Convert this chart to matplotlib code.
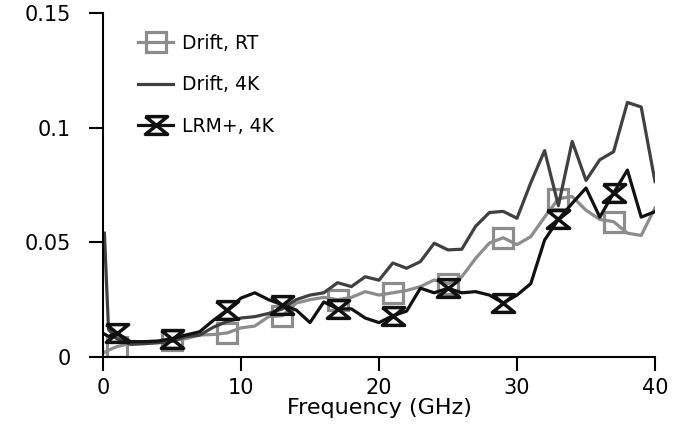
import matplotlib
matplotlib.use("Agg")
import matplotlib.pyplot as plt
import numpy as np

# frequency points (GHz)
freq = [0.1, 0.4] + list(range(1, 41))

drift_rt = [0.002, 0.003, 0.0045, 0.006, 0.0062, 0.0065, 0.0074, 0.008, 0.0096, 0.0098,
            0.0105, 0.0127, 0.0135, 0.0176, 0.018, 0.0235, 0.025, 0.026, 0.025, 0.026,
            0.0285, 0.027, 0.028, 0.029, 0.0307, 0.0336, 0.032, 0.035, 0.043, 0.0497,
            0.052, 0.049, 0.0525, 0.061, 0.069, 0.070, 0.064, 0.060, 0.059, 0.054,
            0.053, 0.065]

drift_4k = [0.054, 0.012, 0.008, 0.0055, 0.0058, 0.0062, 0.0068, 0.0089, 0.0095, 0.013,
            0.0155, 0.017, 0.0176, 0.019, 0.021, 0.025, 0.027, 0.028, 0.0324, 0.0307,
            0.035, 0.0335, 0.041, 0.0387, 0.0416, 0.0496, 0.0467, 0.047, 0.057, 0.063,
            0.0635, 0.0605, 0.076, 0.090, 0.066, 0.094, 0.077, 0.086, 0.0895, 0.111,
            0.109, 0.0765]

lrm_4k = [0.010, 0.009, 0.0105, 0.0067, 0.0067, 0.007, 0.008, 0.0096, 0.011, 0.016,
          0.0205, 0.0257, 0.028, 0.025, 0.0227, 0.0205, 0.015, 0.024, 0.021, 0.021,
          0.017, 0.015, 0.018, 0.020, 0.030, 0.028, 0.030, 0.028, 0.0285, 0.027,
          0.0235, 0.027, 0.032, 0.051, 0.060, 0.067, 0.0737, 0.061, 0.0715, 0.0815,
          0.061, 0.0634]

yticks = [0, 0.05, 0.1, 0.15]
ytick_labels = ["0", "0.05", "0.1", "0.15"]
xticks = [0, 10, 20, 30, 40]

# hourglass marker
hourglass = [(-1, 0.8), (1, 0.8), (-1, -0.8), (1, -0.8), (-1, 0.8)]

fig = plt.figure(figsize=(6.84, 4.33), dpi=100)
ax = fig.add_axes([0.1506, 0.1755, 0.807, 0.7945])

every = slice(2, None, 4)
ax.plot(freq, drift_rt, color="#8c8c8c", lw=2.3, marker="s", ms=14,
        mfc="none", mew=2.3, markevery=every, label="Drift, RT")
ax.plot(freq, drift_4k, color="#404040", lw=2.3, label="Drift, 4K")
ax.plot(freq, lrm_4k, color="#111111", lw=2.3, marker=hourglass, ms=16,
        mfc="none", mew=2.5, markevery=every, label="LRM+, 4K")

ax.set_xlim(0, 40)
ax.set_ylim(0, 0.15)
ax.set_xticks(xticks)
ax.set_yticks(yticks)
ax.set_yticklabels(ytick_labels)
ax.set_xlabel("Frequency (GHz)", fontsize=16, labelpad=0)

for s in ["top", "right"]:
    ax.spines[s].set_visible(False)
for s in ["left", "bottom"]:
    ax.spines[s].set_linewidth(1.5)
ax.tick_params(direction="out", length=10, width=1.5, labelsize=15)
ax.tick_params(axis="x", pad=5)
ax.tick_params(axis="y", pad=13)

ax.legend(loc="upper left", bbox_to_anchor=(0.064, 0.94), frameon=False,
          fontsize=13.5, handlelength=1.87, handletextpad=0.46,
          labelspacing=1.2, borderaxespad=0, borderpad=0)

fig.savefig("out.png", dpi=100)
